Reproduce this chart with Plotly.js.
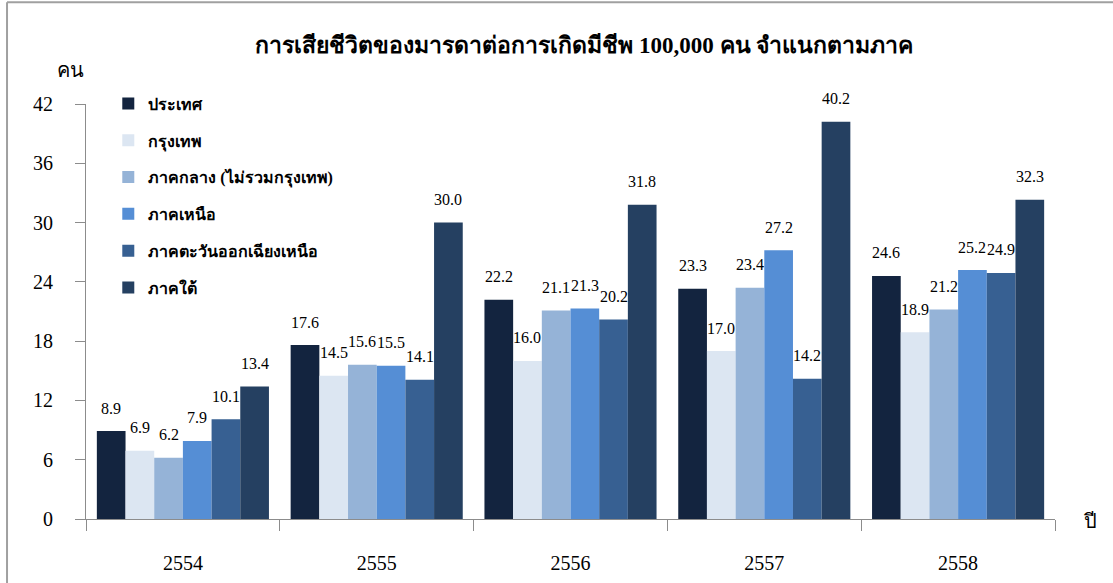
<!DOCTYPE html>
<html>
<head>
<meta charset="utf-8">
<script src="https://cdn.plot.ly/plotly-3.0.1.min.js"></script>
<style>
html,body{margin:0;padding:0;background:#fff;}
#chart{width:1113px;height:583px;}
</style>
</head>
<body>
<div id="chart"></div>
<script>
const years = ["2554", "2555", "2556", "2557", "2558"];
const seriesNames = ["ประเทศ", "กรุงเทพ", "ภาคกลาง (ไม่รวมกรุงเทพ)", "ภาคเหนือ", "ภาคตะวันออกเฉียงเหนือ", "ภาคใต้"];
const country   = [8.9, 17.6, 22.2, 23.3, 24.6];
const bangkok   = [6.9, 14.5, 16.0, 17.0, 18.9];
const central   = [6.2, 15.6, 21.1, 23.4, 21.2];
const north     = [7.9, 15.5, 21.3, 27.2, 25.2];
const northeast = [10.1, 14.1, 20.2, 14.2, 24.9];
const south     = [13.4, 30.0, 31.8, 40.2, 32.3];
const seriesValues = [country, bangkok, central, north, northeast, south];
const yTicks = [0, 6, 12, 18, 24, 30, 36, 42];

const colors = ["#13243F", "#DCE6F2", "#95B3D7", "#558ED5", "#376092", "#254061"];
const serif = "Liberation Serif, Times New Roman, serif";

const plotW = 1113 - 86 - 58;
const bargap = 0.112;
const barPx = plotW / years.length * (1 - bargap) / seriesNames.length;

const traces = seriesNames.map((name, i) => ({
  type: "bar",
  name: name,
  x: years,
  y: seriesValues[i],
  legendgroup: "g" + i,
  marker: {color: colors[i], line: {width: 0}},
  hoverinfo: "x+y+name"
}));

const annotations = [];
seriesValues.forEach((vals, i) => {
  vals.forEach((v, j) => {
    annotations.push({
      x: j, y: v, xref: "x", yref: "y",
      text: v.toFixed(1), showarrow: false,
      xshift: (i - 2.5) * barPx, yshift: 23,
      yanchor: "middle", xanchor: "center",
      font: {family: serif, size: 16, color: "#000"}
    });
  });
});
annotations.push({
  xref: "paper", yref: "paper", x: -0.0165, y: 1.082,
  text: "คน", showarrow: false, xanchor: "center", yanchor: "middle",
  font: {family: serif, size: 20, color: "#000"}
});
annotations.push({
  xref: "paper", yref: "paper", x: 1.037, y: -0.005,
  text: "ปี", showarrow: false, xanchor: "center", yanchor: "middle",
  font: {family: serif, size: 20, color: "#000"}
});

const layout = {
  width: 1113, height: 583,
  margin: {l: 86, r: 58, t: 104, b: 64},
  paper_bgcolor: "#fff", plot_bgcolor: "#fff",
  barmode: "group", bargap: bargap, bargroupgap: 0,
  title: {
    text: "<b>การเสียชีวิตของมารดาต่อการเกิดมีชีพ 100,000 คน จำแนกตามภาค</b>",
    x: 0.525, xanchor: "center", y: 0.923, yanchor: "middle",
    font: {family: serif, size: 23, color: "#000"}
  },
  xaxis: {
    type: "category", range: [-0.5, 4.5], autorange: false,
    showline: true, linecolor: "#8c8c8c", linewidth: 1,
    ticks: "outside", tickson: "boundaries", ticklen: 11, tickcolor: "#8c8c8c",
    ticklabelstandoff: 26,
    tickfont: {family: serif, size: 20, color: "#000"},
    showgrid: false, zeroline: false, fixedrange: true
  },
  yaxis: {
    range: [0, 42], autorange: false, tickvals: yTicks,
    showline: true, linecolor: "#8c8c8c", linewidth: 1,
    ticks: "outside", ticklen: 10, tickcolor: "#8c8c8c",
    ticklabelstandoff: 18,
    tickfont: {family: serif, size: 20, color: "#000"},
    showgrid: false, zeroline: false, fixedrange: true
  },
  legend: {
    x: 0.023, y: 1.042, xanchor: "left", yanchor: "top",
    bgcolor: "rgba(0,0,0,0)",
    font: {family: serif, size: 16, color: "#000", weight: "bold"},
    tracegroupgap: 13, traceorder: "grouped"
  },
  annotations: annotations,
  shapes: [
    {type: "line", xref: "paper", yref: "paper", x0: -0.0815, x1: -0.0815, y0: -0.2, y1: 1.245, line: {color: "#a0a0a0", width: 2}},
    {type: "line", xref: "paper", yref: "paper", x0: -0.0815, x1: 1.1, y0: 1.245, y1: 1.245, line: {color: "#a0a0a0", width: 2}}
  ],
  showlegend: true
};

Plotly.newPlot("chart", traces, layout, {displayModeBar: false, staticPlot: true});
</script>
</body>
</html>
